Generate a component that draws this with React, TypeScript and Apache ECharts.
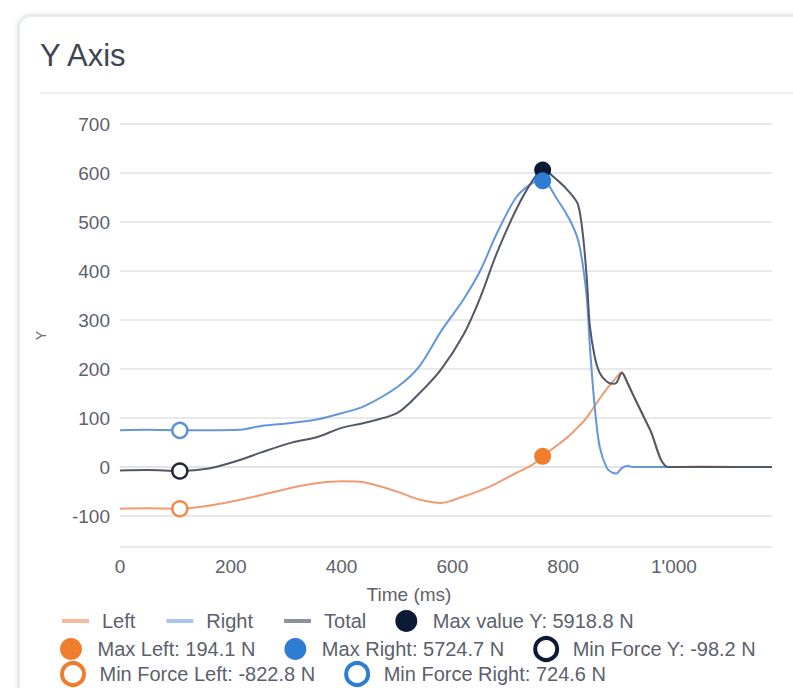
import { useEffect, useRef } from "react";
import * as echarts from "echarts";

const timeMs = [0, 50, 108, 160, 215, 255, 310, 355, 400, 440, 500, 540, 580, 620, 650, 680, 715, 745, 763, 790, 812, 827, 836, 843, 848, 857, 866, 879, 890, 896, 906, 916, 926, 957, 990, 1050, 1120, 1177];
const leftN = [-85, -84, -85, -79, -67, -57, -42, -33, -29, -31, -50, -66, -73, -60, -48, -33, -12, 5, 22, 45, 65, 82, 92, 102, 110, 125, 140, 160, 175, 183, 194, 172, 148, 76, 0, 1, 0, 0];
const rightN = [75, 76, 75, 75, 76, 84, 90, 97, 110, 124, 163, 205, 278, 342, 400, 476, 550, 580, 584, 545, 504, 463, 408, 341, 250, 122, 41, -2, -12, -13, -2, 3, 0, 0, 0, 0, 0, 0];
const totalN = [-7, -6, -8, -3, 14, 30, 50, 61, 80, 90, 110, 150, 200, 270, 345, 436, 525, 585, 606, 585, 560, 535, 470, 380, 290, 225, 192, 174, 170, 172, 192, 172, 148, 76, 0, 0, 0, 0];

const maxValueY = [763, 606];
const maxLeft = [763, 22];
const maxRight = [763, 584];
const minForceY = [108, -8];
const minForceLeft = [108, -85];
const minForceRight = [108, 75];

const legendRow1 = ["Left", "Right", "Total", "Max value Y: 5918.8 N"];
const legendRow2 = ["Max Left: 194.1 N", "Max Right: 5724.7 N", "Min Force Y: -98.2 N"];
const legendRow3 = ["Min Force Left: -822.8 N", "Min Force Right: 724.6 N"];

const FONT = "'Liberation Sans', Arial, Helvetica, sans-serif";
const C_LEFT = "#f39a73";
const C_RIGHT = "#6496dc";
const C_TOTAL = "#525866";
const C_DARK = "#0c1a35";
const C_ORANGE = "#f07d2e";
const C_BLUE = "#2f7cd3";

export default function App() {
  const ref = useRef<HTMLDivElement>(null);
  useEffect(() => {
    const chart = echarts.init(ref.current!, null, { renderer: "svg" });
    const pair = (vals: number[]) => timeMs.map((t, i) => [t, vals[i]]);
    const lineSeries = (name: string, vals: number[], color: string) => ({
      type: "line",
      name,
      data: pair(vals),
      smooth: 0.3,
      symbol: "none",
      lineStyle: { color, width: 2 },
      itemStyle: { color },
      z: 2,
    });
    const dot = (name: string, pt: number[], color: string) => ({
      type: "scatter",
      name,
      data: [pt],
      symbol: "circle",
      symbolSize: 17,
      itemStyle: { color, opacity: 1 },
      z: 5,
    });
    const ring = (name: string, pt: number[], color: string) => ({
      type: "scatter",
      name,
      data: [pt],
      symbol: "circle",
      symbolSize: 15,
      itemStyle: { color: "#ffffff", borderColor: color, borderWidth: 2.5, opacity: 1 },
      z: 5,
    });
    const hiddenDot = { color: "rgba(0,0,0,0)", borderColor: "rgba(0,0,0,0)", borderWidth: 0, opacity: 0 };
    const legendIcon: Record<string, any> = {
      Left: { itemStyle: hiddenDot, lineStyle: { color: "#f6b89e", width: 4, opacity: 1 } },
      Right: { itemStyle: hiddenDot, lineStyle: { color: "#aac5ee", width: 4, opacity: 1 } },
      Total: { itemStyle: hiddenDot, lineStyle: { color: "#8e929b", width: 4, opacity: 1 } },
      [legendRow1[3]]: { icon: "circle", itemStyle: { color: C_DARK } },
      [legendRow2[0]]: { icon: "circle", itemStyle: { color: C_ORANGE } },
      [legendRow2[1]]: { icon: "circle", itemStyle: { color: C_BLUE } },
      [legendRow2[2]]: { icon: "circle", itemStyle: { color: "#ffffff", borderColor: C_DARK, borderWidth: 4 } },
      [legendRow3[0]]: { icon: "circle", itemStyle: { color: "#ffffff", borderColor: C_ORANGE, borderWidth: 4 } },
      [legendRow3[1]]: { icon: "circle", itemStyle: { color: "#ffffff", borderColor: C_BLUE, borderWidth: 4 } },
    };
    const legend = (names: string[], top: number) => ({
      left: 60,
      top,
      padding: 0,
      itemWidth: 27,
      itemHeight: 22,
      itemGap: 29,
      selectedMode: false,
      textStyle: { fontSize: 20, color: "#5b616c", fontFamily: FONT, padding: [0, 0, 0, 8] },
      data: names.map((n) => ({ name: n, ...legendIcon[n] })),
    });
    const fmtX = (v: number) => {
      if (v % 200 !== 0) return "";
      if (v >= 1000) return `${Math.floor(v / 1000)}'${String(v % 1000).padStart(3, "0")}`;
      return String(v);
    };
    chart.setOption({
      animation: false,
      backgroundColor: "transparent",
      textStyle: { fontFamily: FONT },
      title: {
        text: "Y Axis",
        left: 40,
        top: 40,
        padding: 0,
        textStyle: { fontSize: 31, fontWeight: "normal", color: "#3f4553", fontFamily: FONT },
      },
      graphic: [
        {
          type: "line",
          shape: { x1: 40, y1: 93, x2: 793, y2: 93 },
          style: { stroke: "#e6e8eb", lineWidth: 1.5 },
          silent: true,
        },
      ],
      grid: { left: 120, right: 21, top: 124, bottom: 141, containLabel: false },
      xAxis: {
        type: "value",
        min: 0,
        max: 1177,
        minInterval: 200,
        maxInterval: 200,
        splitNumber: 6,
        axisLine: { show: true, lineStyle: { color: "#e2e2e2", width: 1.5 } },
        axisTick: { show: false },
        splitLine: { show: false },
        axisLabel: { fontSize: 19, color: "#5d626b", margin: 10, formatter: fmtX, fontFamily: FONT },
        name: "Time (ms)",
        nameLocation: "middle",
        nameGap: 38,
        nameTextStyle: { fontSize: 19, color: "#5d626b", padding: [0, 74, 0, 0], fontFamily: FONT },
      },
      yAxis: {
        type: "value",
        min: -163,
        max: 700,
        minInterval: 100,
        maxInterval: 100,
        splitNumber: 8,
        axisLine: { show: false },
        axisTick: { show: false },
        splitLine: { lineStyle: { color: "#e2e2e2", width: 1.5 } },
        axisLabel: {
          fontSize: 19,
          color: "#5d626b",
          margin: 10,
          fontFamily: FONT,
          formatter: (v: number) => (v % 100 === 0 ? String(v) : ""),
        },
        name: "Y",
        nameLocation: "middle",
        nameRotate: 90,
        nameGap: 72,
        nameTextStyle: { fontSize: 14, color: "#666a72", fontFamily: FONT },
      },
      legend: [legend(legendRow1, 610), legend(legendRow2, 636), legend(legendRow3, 661)],
      series: [
        lineSeries("Left", leftN, C_LEFT),
        lineSeries("Right", rightN, C_RIGHT),
        lineSeries("Total", totalN, C_TOTAL),
        dot(legendRow1[3], maxValueY, C_DARK),
        dot(legendRow2[0], maxLeft, C_ORANGE),
        dot(legendRow2[1], maxRight, C_BLUE),
        ring(legendRow2[2], minForceY, "#1f2637"),
        ring(legendRow3[0], minForceLeft, "#f2884a"),
        ring(legendRow3[1], minForceRight, "#5b93dd"),
      ],
    });
    return () => chart.dispose();
  }, []);

  return (
    <div style={{ position: "fixed", left: 0, top: 0, width: 793, height: 688, background: "#ffffff", overflow: "hidden" }}>
      <div
        style={{
          position: "absolute",
          left: 17,
          top: 14,
          width: 800,
          height: 700,
          boxSizing: "border-box",
          border: "3px solid #e7eaee",
          borderRadius: 14,
          boxShadow: "0 0 6px rgba(0,0,0,0.08)",
          background: "#ffffff",
        }}
      />
      <div ref={ref} style={{ position: "absolute", left: 0, top: 0, width: 793, height: 688 }} />
    </div>
  );
}
